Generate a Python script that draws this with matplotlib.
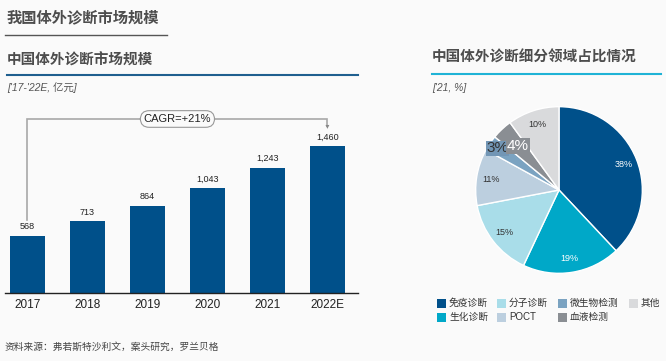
import math
import matplotlib
matplotlib.use("Agg")
import matplotlib.pyplot as plt
from matplotlib.patches import Rectangle

plt.rcParams['font.family'] = ['Liberation Sans', 'Noto Sans CJK SC', 'DejaVu Sans']

# data
years = ['2017', '2018', '2019', '2020', '2021', '2022E']
market = [568, 713, 864, 1043, 1243, 1460]
seg_names = ['免疫诊断', '生化诊断', '分子诊断', 'POCT', '微生物检测', '血液检测', '其他']
seg_share = [38, 19, 15, 11, 3, 4, 10]
seg_colors = ['#00508a', '#00a8c8', '#a9dde9', '#bccfdf', '#7ba3c1', '#8a8e93', '#d9dadc']
pct_colors = ['white', 'white', '#333333', '#333333', '#333333', 'white', '#333333']

W, H = 666, 361
bg = '#fafafa'
title_c = '#4d4d4d'
bar_c = '#00508a'

fig = plt.figure(figsize=(W / 100, H / 100), dpi=100, facecolor=bg)

def fx(px):
    return px / W

def fy(py):
    return 1 - py / H

# headers
fig.text(fx(7), fy(18), '我国体外诊断市场规模', fontsize=11, fontweight='bold', color=title_c, va='center')
fig.add_artist(plt.Line2D([fx(5), fx(167)], [fy(35), fy(35)], color='#555555', lw=1))

fig.text(fx(7), fy(60), '中国体外诊断市场规模', fontsize=10.5, fontweight='bold', color=title_c, va='center')
fig.add_artist(plt.Line2D([fx(7), fx(358)], [fy(75), fy(75)], color='#1f5f8f', lw=1.5))
fig.text(fx(7), fy(88), "['17-'22E, 亿元]", fontsize=7.5, style='italic', color='#555555', va='center')

fig.text(fx(432), fy(58), '中国体外诊断细分领域占比情况', fontsize=10.5, fontweight='bold', color=title_c, va='center')
fig.add_artist(plt.Line2D([fx(432), fx(661)], [fy(73.5), fy(73.5)], color='#1fb3d6', lw=1.5))
fig.text(fx(432), fy(88), "['21, %]", fontsize=7.5, style='italic', color='#555555', va='center')

fig.text(fx(5), fy(347), '资料来源：弗若斯特沙利文，案头研究，罗兰贝格', fontsize=7, color='#444444', va='center')

# bar chart
ax = fig.add_axes([fx(5), fy(293), fx(353), (293 - 93) / H])
ax.set_facecolor(bg)
x = list(range(len(years)))
ax.bar(x, market, width=0.58, color=bar_c)
ax.set_xlim(-0.375, 5.51)
ax.set_ylim(0, 1986)
for s in ['top', 'right', 'left']:
    ax.spines[s].set_visible(False)
ax.spines['bottom'].set_color('#222222')
ax.spines['bottom'].set_linewidth(1)
ax.set_yticks([])
ax.set_xticks(x)
ax.set_xticklabels(years, fontsize=8.5, color='#222222')
ax.tick_params(axis='x', length=0, pad=4)
for xi, v in zip(x, market):
    ax.text(xi, v + 45, f'{v:,}', ha='center', va='bottom', fontsize=6.5, color='#222222')

# CAGR bracket
ax.plot([0, 0, 5, 5], [725, 1728, 1728, 1660], color='#a8a8a8', lw=1.2, solid_joinstyle='miter')
ax.annotate('', xy=(5, 1630), xytext=(5, 1670),
            arrowprops=dict(arrowstyle='-|>', color='#888888', lw=0, mutation_scale=7))
ax.text(2.5, 1728, 'CAGR=+21%', ha='center', va='center', fontsize=8, color='#222222',
        bbox=dict(boxstyle='round,pad=0.3,rounding_size=0.8', fc=bg, ec='#999999', lw=0.8))

# pie chart
pax = fig.add_axes([fx(559 - 100), fy(190 + 100), fx(200), 200 / H])
wedges, texts, autotexts = pax.pie(seg_share, colors=seg_colors, startangle=90, counterclock=False,
                                   autopct='%d%%', pctdistance=0.83,
                                   wedgeprops=dict(edgecolor='white', linewidth=1))
pax.set_xlim(-1.2, 1.2)
pax.set_ylim(-1.2, 1.2)
pax.set_aspect('equal')
for i, t in enumerate(autotexts):
    t.set_color(pct_colors[i])
    t.set_fontsize(6.5)
# small slices: larger labels with a box
for i, r, box in [(4, 0.89, '#7296b5'), (5, 0.72, '#8a8e93')]:
    start = sum(seg_share[:i])
    mid = 90 - (start + seg_share[i] / 2) * 3.6
    t = autotexts[i]
    t.set_position((r * math.cos(math.radians(mid)), r * math.sin(math.radians(mid))))
    t.set_fontsize(11)
    t.set_bbox(dict(boxstyle='square,pad=0.05', fc=box, ec='none'))

# legend, drawn by hand to get the fixed column spacing
col_x = [437, 497, 558, 629]
row_y = [303, 317]
for k, (name, c) in enumerate(zip(seg_names, seg_colors)):
    lx, ly = col_x[k // 2], row_y[k % 2]
    fig.add_artist(Rectangle((fx(lx), fy(ly + 4.5)), fx(9), 9 / H, facecolor=c, edgecolor='none'))
    fig.text(fx(lx + 12), fy(ly), name, fontsize=7, color='#333333', va='center')

fig.savefig('out.png', dpi=100, facecolor=bg)
